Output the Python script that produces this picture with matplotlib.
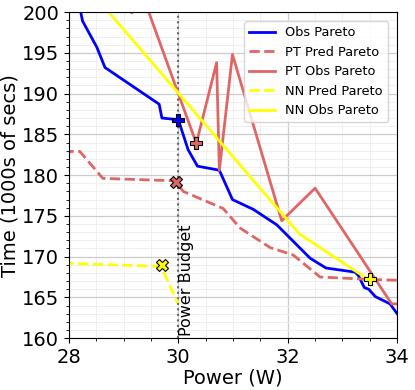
#!/usr/bin/env python3
import numpy as np
import matplotlib
matplotlib.use('Agg')
import matplotlib.pyplot as plt
from matplotlib.ticker import MultipleLocator

## Data
obs_x = [28.21, 28.25, 28.51, 28.66, 29.65, 29.70, 30.0, 30.18, 30.35, 30.75,
         30.99, 31.37, 31.80, 32.41, 32.70, 33.23, 33.29, 33.40, 33.48, 33.60,
         33.87, 34.0]
obs_y = [200.2, 198.9, 195.7, 193.2, 188.7, 187.0, 186.8, 183.1, 181.1, 180.6,
         177.0, 175.8, 173.9, 169.8, 168.6, 168.1, 167.7, 166.2, 166.0, 165.1,
         164.2, 163.0]

pt_pred_x = [27.9, 28.2, 28.62, 29.94, 30.09, 30.82, 31.13, 31.68, 32.10,
             32.59, 33.51, 34.0]
pt_pred_y = [182.9, 182.9, 179.6, 179.3, 178.0, 175.9, 173.5, 171.1, 170.2,
             167.5, 167.2, 167.1]

pt_obs_x = [29.1, 29.15, 29.2, 30.33, 30.70, 30.75, 30.99, 31.89, 32.50,
            33.90, 34.0]
pt_obs_y = [203.0, 199.9, 204.8, 183.9, 193.8, 180.6, 194.8, 174.4, 178.4,
            164.2, 164.2]

nn_pred_x = [27.9, 29.66, 29.72, 29.99]
nn_pred_y = [169.2, 168.8, 168.3, 164.3]

nn_obs_x = [28.6, 32.21, 33.38, 33.51]
nn_obs_y = [201.0, 172.8, 167.6, 167.2]

# chosen configurations (markers)
obs_pick = (30.0, 186.8)
pt_obs_pick = (30.33, 183.9)
pt_pred_pick = (29.95, 179.2)
nn_pred_pick = (29.7, 169.0)
nn_obs_pick = (33.5, 167.3)

power_budget = 30

## Colours
blue = '#0000ff'
red = '#e06666'
yellow = '#ffff00'

fig = plt.figure(figsize=(4.15, 3.9), dpi=100)
ax = fig.add_axes([0.166, 0.133, 0.791, 0.836])

ax.plot(obs_x, obs_y, color=blue, lw=2, label='Obs Pareto')
ax.plot(pt_pred_x, pt_pred_y, color=red, lw=2, ls='--', label='PT Pred Pareto')
ax.plot(pt_obs_x, pt_obs_y, color=red, lw=2, label='PT Obs Pareto')
ax.plot(nn_pred_x, nn_pred_y, color=yellow, lw=2, ls='--',
        label='NN Pred Pareto')
ax.plot(nn_obs_x, nn_obs_y, color=yellow, lw=2, label='NN Obs Pareto')

ax.axvline(power_budget, color='#666666', ls=':', lw=1.5, zorder=1)
ax.text(power_budget + 0.02, 160.2, 'Power Budget', rotation=90,
        ha='left', va='bottom', fontsize=11.5)

mk = dict(markersize=9, markeredgecolor='black', markeredgewidth=0.8,
          linestyle='none', zorder=5)
ax.plot(*obs_pick, marker='P', color=blue, **mk)
ax.plot(*pt_obs_pick, marker='P', color=red, **mk)
ax.plot(*pt_pred_pick, marker='X', color=red, **mk)
ax.plot(*nn_pred_pick, marker='X', color=yellow, **mk)
ax.plot(*nn_obs_pick, marker='P', color=yellow, **mk)

ax.set_xlim(28, 34)
ax.set_ylim(160, 200)
ax.xaxis.set_major_locator(MultipleLocator(2))
ax.xaxis.set_minor_locator(MultipleLocator(0.5))
ax.yaxis.set_major_locator(MultipleLocator(5))
ax.yaxis.set_minor_locator(MultipleLocator(1))
ax.grid(which='major', color='#cccccc', lw=0.9)
ax.grid(which='minor', color='#eeeeee', lw=0.6)
ax.set_axisbelow(True)
ax.tick_params(labelsize=14)

ax.set_xlabel('Power (W)', fontsize=14, labelpad=1)
ax.set_ylabel('Time (1000s of secs)', fontsize=14, labelpad=2)

ax.legend(loc='upper right', fontsize=9.3, handlelength=2.0,
          borderaxespad=0.7)

plt.savefig('out.png', dpi=100)
plt.close(fig)
